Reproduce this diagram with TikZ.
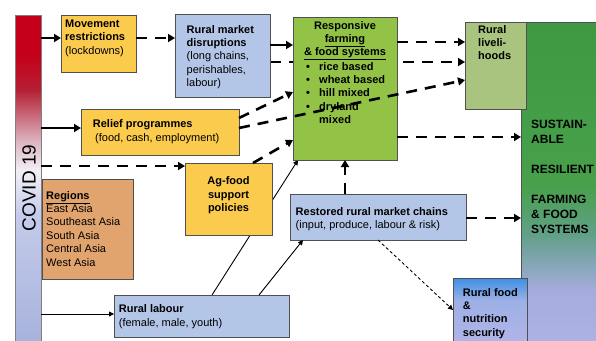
\documentclass[tikz,border=0pt]{standalone}
\usepackage{fontspec}
\setmainfont{Liberation Sans}
\usetikzlibrary{arrows.meta}
\pgfdeclarelayer{back}
\pgfdeclarelayer{base}
\pgfsetlayers{base,back,main}
\definecolor{ybox}{HTML}{FBCB4E}
\definecolor{bluebox}{HTML}{B4C6E7}
\definecolor{obox}{HTML}{E1A46E}
\definecolor{gresp}{HTML}{92C346}
\definecolor{gliv}{HTML}{A8C47E}
\definecolor{boxline}{HTML}{505050}
\definecolor{covA}{HTML}{C5001A}
\definecolor{covB}{HTML}{B52035}
\definecolor{covC}{HTML}{DBB2BD}
\definecolor{covD}{HTML}{F3EFF5}
\definecolor{covE}{HTML}{C4CBEA}
\definecolor{covF}{HTML}{A8B3DD}
\definecolor{susA}{HTML}{3E9942}
\definecolor{susB}{HTML}{48A04B}
\definecolor{susC}{HTML}{62A08A}
\definecolor{susD}{HTML}{A6ACDD}
\definecolor{susE}{HTML}{ADB1E3}
\definecolor{foodA}{HTML}{3D8FE5}
\definecolor{foodB}{HTML}{9DB0E6}
\definecolor{foodC}{HTML}{B0B4E8}
\begin{document}
\begin{tikzpicture}[x=1pt,y=-1pt,
  box/.style={draw=boxline, line width=0.9pt, anchor=north west, inner sep=0pt, outer sep=0pt},
  txt/.style={anchor=north west, inner sep=0pt, align=left, font=\fontsize{11}{13.4}\selectfont},
  ctxt/.style={anchor=north, inner sep=0pt, align=center, font=\fontsize{11}{13.4}\selectfont\bfseries},
  thickarr/.style={line width=2.6pt, -{Triangle[length=7pt,width=8pt]}},
  dasharr/.style={thickarr, dash pattern=on 11pt off 8pt},
  thinarr/.style={line width=0.9pt, -{Triangle[length=5pt,width=5pt]}},
  dotarr/.style={thinarr, dash pattern=on 3pt off 2.5pt}
]
\useasboundingbox (0,0) rectangle (596,340);
\begin{pgfonlayer}{base}
\fill[white] (0,0) rectangle (596,340);
\fill[covA] (15,15) rectangle (41,55.5);
\shade[top color=covA, bottom color=covB] (15,55) rectangle (41,90.5);
\shade[top color=covB, bottom color=covC] (15,90) rectangle (41,140.5);
\shade[top color=covC, bottom color=covD] (15,140) rectangle (41,170.5);
\shade[top color=covD, bottom color=covE] (15,170) rectangle (41,215.5);
\shade[top color=covE, bottom color=covF] (15,215) rectangle (41,340);
\shade[top color=susA, bottom color=susB] (521,22) rectangle (596,185.5);
\shade[top color=susB, bottom color=susC] (521,185) rectangle (596,235.5);
\shade[top color=susC, bottom color=susD] (521,235) rectangle (596,290.5);
\shade[top color=susD, bottom color=susE] (521,290) rectangle (596,340);
\end{pgfonlayer}
% ---------- boxes
\node[box, draw=gray, minimum width=26pt, minimum height=330pt] (covid) at (15,15) {};
\node[box, minimum width=80pt, minimum height=323pt] (sus) at (521,22) {};
\node[box, fill=ybox, minimum width=75pt, minimum height=57pt] (mov) at (61,15) {};
\node[box, fill=bluebox, minimum width=95pt, minimum height=83pt] (rmd) at (175,14) {};
\node[box, fill=ybox, minimum width=158pt, minimum height=46pt] (relief) at (81,109) {};
\node[box, fill=ybox, minimum width=87pt, minimum height=72pt] (agf) at (185,163) {};
\node[box, fill=obox, minimum width=91pt, minimum height=100pt] (reg) at (42,179) {};
\node[box, fill=bluebox, minimum width=175pt, minimum height=42pt] (lab) at (114,295) {};
\node[box, fill=gresp, minimum width=104pt, minimum height=143pt] (resp) at (293,17) {};
\node[box, fill=gliv, minimum width=61pt, minimum height=87pt] (liv) at (465,22) {};
\node[box, fill=bluebox, minimum width=176pt, minimum height=46pt] (rest) at (290,194) {};
\shade[top color=foodA, bottom color=foodB] (453,278) rectangle (527,300.5);
\shade[top color=foodB, bottom color=foodC] (453,300) rectangle (527,340);
\node[box, minimum width=74pt, minimum height=67pt] (food) at (453,278) {};
% ---------- texts
\node[rotate=90, inner sep=0pt, font=\fontsize{19}{19}\selectfont] (covidtxt) at (29,188) {COVID 19};
\node[txt] (movtxt) at (65,19.5) {\bfseries Movement\\\bfseries restrictions\\(lockdowns)};
\node[txt] (rmdtxt) at (186.5,25) {\bfseries Rural market\\\bfseries disruptions\\(long chains,\\perishables,\\labour)};
\node[txt] (relieftxt) at (92.7,119.5) {\bfseries Relief programmes\\\hspace*{2.3pt}(food, cash, employment)};
\node[ctxt] (agftxt) at (228.5,176.5) {Ag-food\\support\\policies};
\node[txt] (regtxt) at (46,191) {\bfseries\underline{Regions}\\East Asia\\Southeast Asia\\South Asia\\Central Asia\\West Asia};
\node[txt, font=\fontsize{11}{14}\selectfont] (labtxt) at (118.7,304.5) {\bfseries Rural labour\\(female, male, youth)};
\node[ctxt] (resptxt) at (345,21) {Responsive\\\underline{farming}\\\underline{\& food systems}};
\node[txt, font=\fontsize{11}{13.4}\selectfont\bfseries] (bullets) at (306,62) {\makebox[13pt][l]{•}rice based\\\makebox[13pt][l]{•}wheat based\\\makebox[13pt][l]{•}hill mixed\\\makebox[13pt][l]{•}dryland\\\hspace*{13pt}mixed};
\node[txt, font=\fontsize{11}{13.4}\selectfont\bfseries] (livtxt) at (478,25) {Rural\\liveli-\\hoods};
\node[txt, font=\fontsize{12}{15}\selectfont\bfseries] (sustxt) at (531,119.5) {SUSTAIN-\\ABLE\\\mbox{}\\RESILIENT\\\mbox{}\\FARMING\\\& FOOD\\SYSTEMS};
\node[txt] (resttxt) at (295.5,207) {\bfseries Restored rural market chains\\(input, produce, labour \& risk)};
\node[txt, font=\fontsize{11}{13.4}\selectfont\bfseries] (foodtxt) at (462.7,288) {Rural food\\\&\\nutrition\\security};
% ---------- connectors behind boxes
\coordinate (c4) at ([yshift=-6.5pt]rmd.east);
\coordinate (c12a) at ([xshift=10.5pt]lab.north);
\coordinate (c12b) at ([xshift=-47pt]resp.south);
\begin{pgfonlayer}{back}
\draw[dasharr] (c4) -- (c4 -| liv.west);
\draw[thinarr] (c12a) -- (c12b);
\end{pgfonlayer}
% ---------- connectors
\coordinate (c1) at ([yshift=5.5pt]mov.west);
\draw[thickarr] (covid.east |- c1) -- (c1);
\coordinate (c2) at ([yshift=5.5pt]mov.east);
\draw[dasharr] (c2) -- (c2 -| rmd.west);
\coordinate (c3) at ([yshift=10.5pt]rmd.east);
\draw[thickarr] (c3) -- (c3 -| resp.west);
\coordinate (c5) at ([yshift=46.5pt]resp.east);
\draw[dasharr] (c5) -- (c5 -| liv.west);
\coordinate (c6) at ([yshift=4pt]relief.west);
\draw[thickarr] (covid.east |- c6) -- (c6);
\draw[dasharr] ([yshift=14pt]relief.east) -- ([yshift=-3.5pt]resp.west);
\draw[dasharr] ([yshift=4pt]relief.east) -- ([yshift=-14.5pt]liv.west);
\coordinate (c9) at ([yshift=33pt]agf.west);
\draw[dasharr] (covid.east |- c9) -- (c9);
\draw[dasharr] ([xshift=24.5pt]agf.north) -- ([yshift=-51.5pt]resp.west);
\coordinate (c11) at ([yshift=2pt]lab.west);
\draw[thinarr] (covid.east |- c11) -- (c11);
\draw[thinarr] ([xshift=57.5pt]lab.north) -- ([xshift=-75pt]rest.south);
\draw[dasharr] (resp.south |- rest.north) -- (resp.south);
\coordinate (c15) at ([yshift=-1pt]rest.east);
\draw[dasharr] (c15) -- (c15 -| sus.west);
\draw[dotarr] (rest.south) -- ([yshift=1.5pt]food.west);
\coordinate (c17) at ([yshift=-48.5pt]resp.east);
\draw[dasharr] (c17) -- (c17 -| sus.west);
\end{tikzpicture}
\end{document}
